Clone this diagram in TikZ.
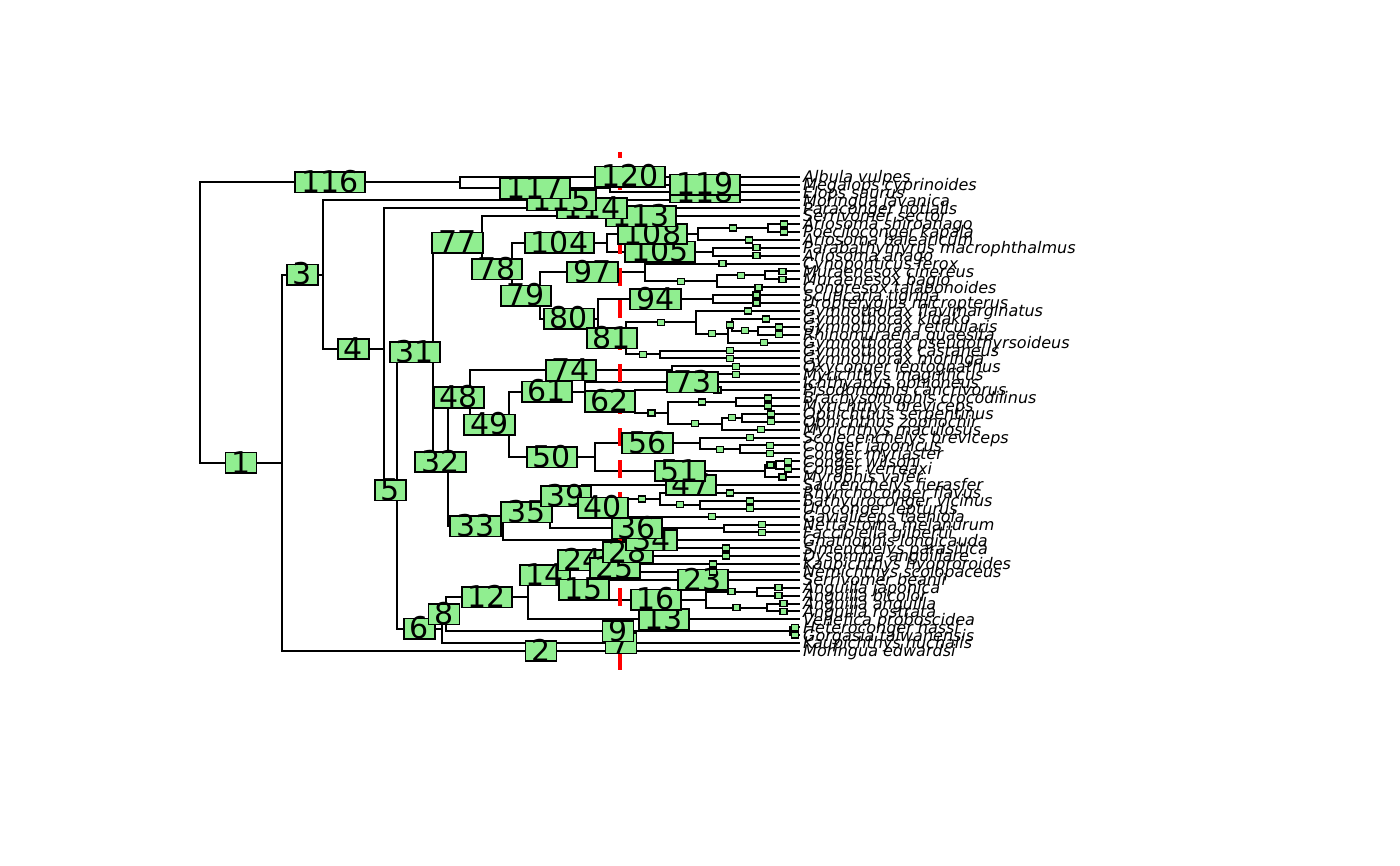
\documentclass[tikz,border=0pt]{standalone}
\usepackage{fontspec}
\setmainfont{DejaVu Sans}
\definecolor{lightgreen}{HTML}{90EE90}
\tikzset{
  branch/.style={line width=1.5pt},
  edgelab/.style={draw, fill=lightgreen, line width=1.2pt, inner xsep=4.6pt, inner ysep=0pt,
    text height=15.3pt, text depth=-1.1pt, font=\fontsize{22.5}{22.5}\selectfont},
  cutlab/.style={draw, fill=lightgreen, line width=1.1pt, inner sep=0pt,
    minimum width=5.2pt, minimum height=4.5pt},
  tip/.style={anchor=west, inner xsep=2.2pt, inner ysep=0pt, text height=8.75pt,
    text depth=0pt, font=\fontsize{12}{12}\selectfont\itshape},
  cutline/.style={draw=red, line width=3pt, dash pattern=on 13.5pt off 10.5pt, dash phase=9pt}
}
% parent/child/label (0 = blank label)
\def\treeedges{r/n1/1, n1/t61/2, n1/n3/3, n3/n4/4, n4/n5/5, n5/n6/6, n6/t60/7, n6/n8/8,
  n8/n9/9, n9/t59/0, n9/t58/0, n8/n12/12, n12/t57/13, n12/n14/14, n14/n15/15, n15/n16/16,
  n16/n17/0, n17/t56/0, n17/t55/0, n16/n20/0, n20/t54/0, n20/t53/0, n15/t52/23,
  n14/n24/24, n24/n25/25, n25/t51/0, n25/t50/0, n24/n28/28, n28/t49/0, n28/t48/0,
  n5/n31/31, n31/n32/32, n32/n33/33, n33/t47/34, n33/n35/35, n35/n36/36, n36/t46/0,
  n36/t45/0, n35/n39/39, n39/n40/40, n40/t44/0, n40/n42/0, n42/n43/0, n43/t43/0,
  n43/t42/0, n42/t41/0, n39/t40/47, n32/n48/48, n48/n49/49, n49/n50/50, n50/n51/51,
  n51/t39/0, n51/n53/0, n53/t38/0, n53/t37/0, n50/n56/56, n56/n57/0, n57/t36/0,
  n57/t35/0, n56/t34/0, n49/n61/61, n61/n62/62, n62/n63/0, n63/n64/0, n64/t33/0,
  n64/n66/0, n66/t32/0, n66/t31/0, n63/n69/0, n69/t30/0, n69/t29/0, n62/t28/0,
  n61/t27/73, n48/n74/74, n74/t26/0, n74/t25/0, n31/n77/77, n77/n78/78, n78/n79/79,
  n79/n80/80, n80/n81/81, n81/n82/0, n82/t24/0, n82/t23/0, n81/n85/0, n85/n86/0,
  n86/t22/0, n86/n88/0, n88/n89/0, n89/t21/0, n89/t20/0, n88/t19/0, n85/t18/0,
  n80/n94/94, n94/t17/0, n94/t16/0, n79/n97/97, n97/n98/0, n98/t15/0, n98/n100/0,
  n100/t14/0, n100/t13/0, n97/t12/0, n78/n104/104, n104/n105/105, n105/t11/0,
  n105/t10/0, n104/n108/108, n108/t9/0, n108/n110/0, n110/t8/0, n110/t7/0,
  n77/t6/113, n4/t5/114, n3/t4/115, r/n116/116, n116/n117/117, n117/t3/118,
  n117/t2/119, n116/t1/120}

\begin{document}
\begin{tikzpicture}[x=0.75pt, y=-0.75pt]
	%%%%% START %%%%%
	\useasboundingbox (0,0) rectangle (1400,866);
	
	% tips
	\foreach \name [count=\i] in {Albula vulpes, Megalops cyprinoides, Elops saurus,
		Moringua javanica, Paraconger notialis, Serrivomer sector, Ariosoma shiroanago,
		Poeciloconger kapala, Ariosoma balearicum, Parabathymyrus macrophthalmus,
		Ariosoma anago, Cynoponticus ferox, Muraenesox cinereus, Muraenesox bagio,
		Congresox talabonoides, Scuticaria tigrina, Uropterygius micropterus,
		Gymnothorax flavimarginatus, Gymnothorax kidako, Gymnothorax reticularis,
		Rhinomuraena quaesita, Gymnothorax pseudothyrsoideus, Gymnothorax castaneus,
		Gymnothorax moringa, Oxyconger leptognathus, Myrichthys magnificus,
		Ichthyapus ophioneus, Pisodonophis cancrivorus, Brachysomophis crocodilinus,
		Myrichthys breviceps, Ophichthus serpentinus, Ophichthus zophochir,
		Myrichthys maculosus, Scolecenchelys breviceps, Conger japonicus,
		Conger myriaster, Conger wilsoni, Conger verreaxi, Myrophis vafer,
		Saurenchelys fierasfer, Rhynchoconger flavus, Bathyuroconger vicinus,
		Uroconger lepturus, Gavialiceps taeniola, Nettastoma melanurum,
		Facciolella gilbertii, Gnathophis longicauda, Simenchelys parasitica,
		Dysomma anguillare, Kaupichthys hyoproroides, Nemichthys scolopaceus,
		Serrivomer beanii, Anguilla japonica, Anguilla bicolor, Anguilla anguilla,
		Anguilla rostrata, Venefica proboscidea, Heteroconger hassi,
		Gorgasia taiwanensis, Kaupichthys nuchalis, Moringua edwardsi}
		\node[tip] (t\i) at (800, {176.6+(\i-1)*7.907}) {\name};
	
	% inner nodes
	\coordinate (r) at (200, 322.7);
	\coordinate (n1) at (282, 462.8);
	\coordinate (n3) at (323, 274.7);
	\coordinate (n4) at (384, 349);
	\coordinate (n5) at (397, 490.3);
	\coordinate (n6) at (442, 628.7);
	\coordinate (n8) at (446, 614.3);
	\coordinate (n9) at (790, 631.3);
	\coordinate (n12) at (528, 597.4);
	\coordinate (n14) at (562, 575.4);
	\coordinate (n15) at (606, 589.7);
	\coordinate (n16) at (706, 599.6);
	\coordinate (n17) at (767, 607.5);
	\coordinate (n20) at (757, 591.7);
	\coordinate (n24) at (604, 560.1);
	\coordinate (n25) at (626, 568);
	\coordinate (n28) at (652, 552.2);
	\coordinate (n31) at (433, 352.3);
	\coordinate (n32) at (448, 461.9);
	\coordinate (n33) at (503, 526.3);
	\coordinate (n35) at (550, 512.4);
	\coordinate (n36) at (724, 528.4);
	\coordinate (n39) at (582, 496.3);
	\coordinate (n40) at (624, 507.7);
	\coordinate (n42) at (660, 498.8);
	\coordinate (n43) at (700, 504.7);
	\coordinate (n48) at (470, 397.5);
	\coordinate (n49) at (509, 424.5);
	\coordinate (n50) at (595, 457.2);
	\coordinate (n51) at (765, 471);
	\coordinate (n53) at (776, 465.2);
	\coordinate (n56) at (700, 443.4);
	\coordinate (n57) at (740, 449.4);
	\coordinate (n61) at (585, 391.8);
	\coordinate (n62) at (635, 401.5);
	\coordinate (n63) at (668, 412.8);
	\coordinate (n64) at (722, 423.7);
	\coordinate (n66) at (742, 417.7);
	\coordinate (n69) at (736, 402);
	\coordinate (n74) at (672, 370.4);
	\coordinate (n77) at (482, 242.7);
	\coordinate (n78) at (512, 269.2);
	\coordinate (n79) at (540, 295.6);
	\coordinate (n80) at (598, 318.8);
	\coordinate (n81) at (626, 338.4);
	\coordinate (n82) at (660, 354.5);
	\coordinate (n85) at (696, 322.4);
	\coordinate (n86) at (728, 333.7);
	\coordinate (n88) at (732, 324.8);
	\coordinate (n89) at (758, 330.7);
	\coordinate (n94) at (713, 299.2);
	\coordinate (n97) at (645, 272.5);
	\coordinate (n98) at (717, 281.4);
	\coordinate (n100) at (765, 275.5);
	\coordinate (n104) at (607, 242.9);
	\coordinate (n105) at (713, 251.7);
	\coordinate (n108) at (698, 234);
	\coordinate (n110) at (768, 228);
	\coordinate (n116) at (460, 182.5);
	\coordinate (n117) at (610, 188.5);
	
	% branches
	\foreach \p/\c/\l in \treeedges
		\draw[branch] (\p) |- (\c);
	
	% cut
	\coordinate (cuttop) at (620, 152);
	\coordinate (cutbot) at (620, 670);
	\draw[cutline] (cuttop) -- (cutbot);
	
	% edge labels
	\foreach \p/\c/\l in \treeedges {
		\ifnum\l=0
			\path (\p) |- node[pos=.75, cutlab] {} (\c);
		\else
			\path (\p) |- node[pos=.75, edgelab] {\l} (\c);
		\fi
	}
	
	%%%%% END %%%%%
\end{tikzpicture}
\end{document}
